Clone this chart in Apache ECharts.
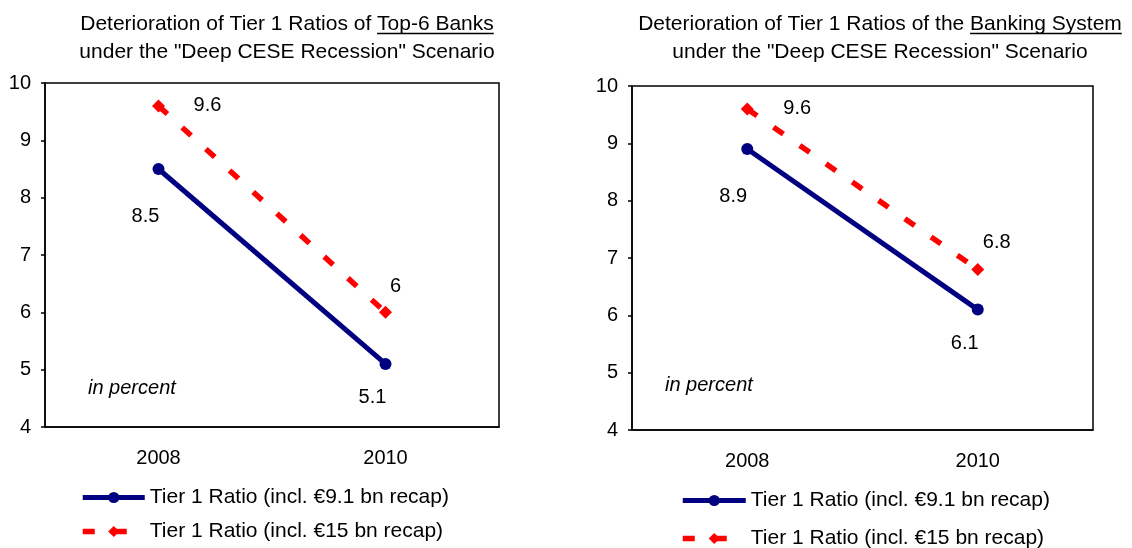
<!DOCTYPE html>
<html><head><meta charset="utf-8">
<script src="https://cdn.jsdelivr.net/npm/echarts@6/dist/echarts.min.js"></script>
<style>html,body{margin:0;padding:0;background:#fff}#c{width:1132px;height:548px}</style>
</head><body><div id="c"></div>
<script>
var categories = ['2008', '2010'];
var top6Recap91 = [8.5, 5.1];
var top6Recap15 = [9.6, 6.0];
var systemRecap91 = [8.9, 6.1];
var systemRecap15 = [9.6, 6.8];
var yTicks = [4, 5, 6, 7, 8, 9, 10];
var seriesNames = ['Tier 1 Ratio (incl. €9.1 bn recap)', 'Tier 1 Ratio (incl. €15 bn recap)'];
var titleLine1 = ['Deterioration of Tier 1 Ratios of ', 'Deterioration of Tier 1 Ratios of the '];
var titleUnderlined = ['Top-6 Banks', 'Banking System'];
var titleLine2 = 'under the "Deep CESE Recession" Scenario';
var noteText = 'in percent';

var FONT = 'Liberation Sans, Arial, sans-serif';
var TITLE_SIZE = 21;
var chart = echarts.init(document.getElementById('c'));

function withLabels(values, offsets) {
  return values.map(function (v, i) {
    return { value: v, label: { offset: offsets[i] } };
  });
}
function xAx(gi) {
  return {
    type: 'category', gridIndex: gi, data: categories, boundaryGap: true,
    axisLine: { lineStyle: { color: '#000', width: 1.5 } },
    axisTick: { inside: true, length: 7, lineStyle: { color: '#000', width: 1.5 } },
    axisLabel: { color: '#000', fontSize: 20, fontFamily: FONT, margin: 21 },
    splitLine: { show: false }
  };
}
function yAx(gi) {
  return {
    type: 'value', gridIndex: gi, min: yTicks[0], max: yTicks[yTicks.length - 1], interval: 1,
    axisLine: { show: true, lineStyle: { color: '#000', width: 1.5 } },
    axisTick: { show: true, length: 4, lineStyle: { color: '#000', width: 1.5 } },
    axisLabel: { color: '#000', fontSize: 20, fontFamily: FONT, margin: 14 },
    splitLine: { show: false }
  };
}
var labelBase = { show: true, position: 'inside', color: '#000', fontSize: 20, fontFamily: FONT };
function blueSeries(gi, values, offsets) {
  return {
    name: seriesNames[0], type: 'line', xAxisIndex: gi, yAxisIndex: gi,
    data: withLabels(values, offsets),
    symbol: 'circle', symbolSize: 12,
    lineStyle: { color: '#000080', width: 5 },
    itemStyle: { color: '#000080' },
    label: labelBase, z: 3
  };
}
function redSeries(gi, values, offsets) {
  return {
    name: seriesNames[1], type: 'line', xAxisIndex: gi, yAxisIndex: gi,
    data: withLabels(values, offsets),
    symbol: 'diamond', symbolSize: 13,
    lineStyle: { color: '#ff0000', width: 5.5, type: [12, 20] },
    itemStyle: { color: '#ff0000' },
    label: labelBase, z: 2
  };
}
function legend(left, top, gap, width) {
  return {
    orient: 'vertical', left: left, top: top, itemGap: gap, itemWidth: width, itemHeight: 14,
    padding: 0, selectedMode: false, height: 90,
    data: [
      { name: seriesNames[0], lineStyle: { width: 5 } },
      { name: seriesNames[1], lineStyle: { width: 5.5 } }
    ],
    textStyle: { color: '#000', fontSize: 21, fontFamily: FONT, lineHeight: 20 }
  };
}

// title positions / underline computed from text metrics
var ctx = document.createElement('canvas').getContext('2d');
ctx.font = TITLE_SIZE + 'px ' + FONT;
var titleCenters = [287, 880];
var titleTop = 10, titleLH = 28;
var graphics = [];
var titles = [];
for (var i = 0; i < 2; i++) {
  var full = titleLine1[i] + titleUnderlined[i];
  titles.push({
    text: full + '\n' + titleLine2, left: titleCenters[i], top: titleTop, padding: 0, textAlign: 'center',
    textStyle: { fontSize: TITLE_SIZE, fontWeight: 'normal', color: '#000', fontFamily: FONT, lineHeight: titleLH }
  });
  var w = ctx.measureText(full).width;
  var pw = ctx.measureText(titleLine1[i]).width;
  var x0 = titleCenters[i] - w / 2 + pw;
  var x1 = titleCenters[i] + w / 2;
  var uy = titleTop + titleLH / 2 + TITLE_SIZE * 0.45;
  graphics.push({ type: 'line', shape: { x1: x0, y1: uy, x2: x1, y2: uy }, style: { stroke: '#000', lineWidth: 1.5 } });
}
graphics.push({ type: 'text', left: 88, top: 378, style: { text: noteText, fontSize: 20, fontStyle: 'italic', fontFamily: FONT, fill: '#000' } });
graphics.push({ type: 'text', left: 665, top: 375, style: { text: noteText, fontSize: 20, fontStyle: 'italic', fontFamily: FONT, fill: '#000' } });

var option = {
  animation: false,
  backgroundColor: '#fff',
  title: titles,
  grid: [
    { left: 45, top: 83, width: 454, height: 344, show: true, borderColor: '#000', borderWidth: 1.5, backgroundColor: 'transparent' },
    { left: 632, top: 86, width: 461, height: 344, show: true, borderColor: '#000', borderWidth: 1.5, backgroundColor: 'transparent' }
  ],
  xAxis: [xAx(0), xAx(1)],
  yAxis: [yAx(0), yAx(1)],
  legend: [legend(80, 487, 13, 62), legend(680, 490, 17, 63)],
  graphic: graphics,
  series: [
    blueSeries(0, top6Recap91, [[-13, 47], [-13, 34]]),
    redSeries(0, top6Recap15, [[49, 0], [10, -26]]),
    blueSeries(1, systemRecap91, [[-14, 47], [-13, 34]]),
    redSeries(1, systemRecap15, [[50, 0], [19, -27]])
  ]
};
chart.setOption(option);
</script></body></html>
